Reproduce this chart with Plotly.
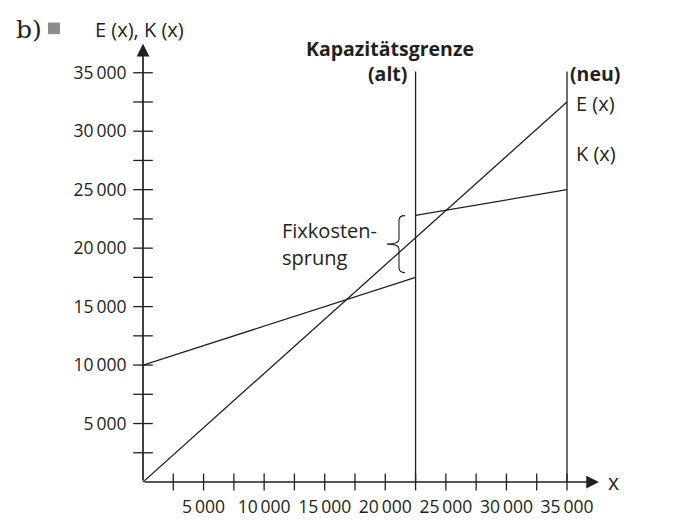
import plotly.graph_objects as go

# ---- data ----
x_line = [0, 35000]
E_vals = [0, 32500]
K_old_x = [0, 22500]
K_old = [10000, 17500]
K_new_x = [22500, 35000]
K_new = [22800, 25000]
cap_alt = 22500
cap_neu = 35000
cap_top = 35100
minor_ticks = [2500 * i for i in range(1, 15)]
major_ticks = [5000 * i for i in range(1, 8)]
tick_text = ["5\u2009000", "10\u2009000", "15\u2009000", "20\u2009000",
             "25\u2009000", "30\u2009000", "35\u2009000"]
brace_top, brace_bot = 22780, 17910

INK = "#231f20"
FONT = "Open Sans"

# ---- geometry (pixels) ----
W, H = 674, 522
L, R, T, B = 135, 74, 30, 32
pw, ph = W - L - R, H - T - B
scale = 424 / 35000.0  # px per unit
xmax = pw / scale
ymax = ph / scale

def ux(px):
    return (px - L) / scale

def uy(py):
    return (H - B - py) / scale

fig = go.Figure()

line_style = dict(color=INK, width=1.3)
fig.add_trace(go.Scatter(x=x_line, y=E_vals, mode="lines", line=line_style,
                         hoverinfo="skip", showlegend=False))
fig.add_trace(go.Scatter(x=K_old_x, y=K_old, mode="lines", line=line_style,
                         hoverinfo="skip", showlegend=False))
fig.add_trace(go.Scatter(x=K_new_x, y=K_new, mode="lines", line=line_style,
                         hoverinfo="skip", showlegend=False))
for cx in (cap_alt, cap_neu):
    fig.add_trace(go.Scatter(x=[cx, cx], y=[0, cap_top], mode="lines",
                             line=line_style, hoverinfo="skip", showlegend=False))

# tick marks crossing axes
fig.add_trace(go.Scatter(x=minor_ticks, y=[0] * len(minor_ticks), mode="markers",
                         marker=dict(symbol="line-ns", size=12,
                                     line=dict(color=INK, width=1.3)),
                         cliponaxis=False, hoverinfo="skip", showlegend=False))
fig.add_trace(go.Scatter(x=[0] * len(minor_ticks), y=minor_ticks, mode="markers",
                         marker=dict(symbol="line-ew", size=14,
                                     line=dict(color=INK, width=1.3)),
                         cliponaxis=False, hoverinfo="skip", showlegend=False))

annotations = []
# axis arrows
annotations.append(dict(x=ux(591), y=0, ax=0, ay=0, xref="x", yref="y",
                        axref="x", ayref="y", showarrow=True, arrowhead=2,
                        arrowsize=1.5, arrowwidth=1.7, arrowcolor=INK, text=""))
annotations.append(dict(x=0, y=uy(36), ax=0, ay=0, xref="x", yref="y",
                        axref="x", ayref="y", showarrow=True, arrowhead=2,
                        arrowsize=1.5, arrowwidth=1.7, arrowcolor=INK, text=""))

def txt(x, y, s, size=15, bold=False, xanchor="center", yanchor="middle", family=FONT, color=INK):
    annotations.append(dict(x=x, y=y, xref="paper", yref="paper", text=s,
                            showarrow=False, xanchor=xanchor, yanchor=yanchor,
                            font=dict(family=family, size=size, color=color,
                                      weight="bold" if bold else "normal")))

def px2paper(px, py):
    return (px - L) / pw, (H - B - py) / ph

def t(px, py, s, **kw):
    x, y = px2paper(px, py)
    txt(x, y, s, **kw)

t(6, 21, "b)", size=25, xanchor="left", family="DejaVu Serif")
t(131, 21, "E (x), K (x)", size=20)
t(605, 490, "x", size=21)
t(382, 41, "Kapazitätsgrenze", size=19.5, bold=True)
t(401, 67, "(alt)", size=19.5, bold=True, xanchor="right")
t(560, 67, "(neu)", size=19.5, bold=True, xanchor="left")
t(566, 98, "E (x)", size=20, xanchor="left")
t(566, 150, "K (x)", size=20, xanchor="left")
t(272, 229, "Fixkosten-", size=20, xanchor="left")
t(272, 257, "sprung", size=20, xanchor="left")

# brace
xe, xa, xt = ux(397), ux(391), ux(379)
mid = (brace_top + brace_bot) / 2
r = 5 / scale
path = (f"M {xe},{brace_top} Q {xa},{brace_top} {xa},{brace_top - r} "
        f"L {xa},{mid + r} Q {xa},{mid} {xt},{mid} "
        f"Q {xa},{mid} {xa},{mid - r} "
        f"L {xa},{brace_bot + r} Q {xa},{brace_bot} {xe},{brace_bot}")
shapes = [dict(type="path", path=path, xref="x", yref="y",
               line=dict(color=INK, width=1.1)),
          dict(type="rect", xref="paper", yref="paper",
               x0=px2paper(40, 0)[0], x1=px2paper(52, 0)[0],
               y0=px2paper(0, 26)[1], y1=px2paper(0, 14)[1],
               fillcolor="#8c8c8c", line=dict(width=0))]

fig.update_layout(
    width=W, height=H,
    margin=dict(l=L, r=R, t=T, b=B),
    plot_bgcolor="white", paper_bgcolor="white",
    annotations=annotations, shapes=shapes,
    xaxis=dict(range=[0, xmax], showgrid=False, zeroline=False, showline=False,
               tickvals=major_ticks, ticktext=tick_text, ticks="outside",
               ticklen=9, tickcolor="rgba(0,0,0,0)",
               tickfont=dict(family=FONT, size=17.5, color=INK)),
    yaxis=dict(range=[0, ymax], showgrid=False, zeroline=False, showline=False,
               tickvals=major_ticks, ticktext=tick_text, ticks="outside",
               ticklen=12, tickcolor="rgba(0,0,0,0)",
               tickfont=dict(family=FONT, size=17.5, color=INK)),
)

fig.write_html("out.html")
